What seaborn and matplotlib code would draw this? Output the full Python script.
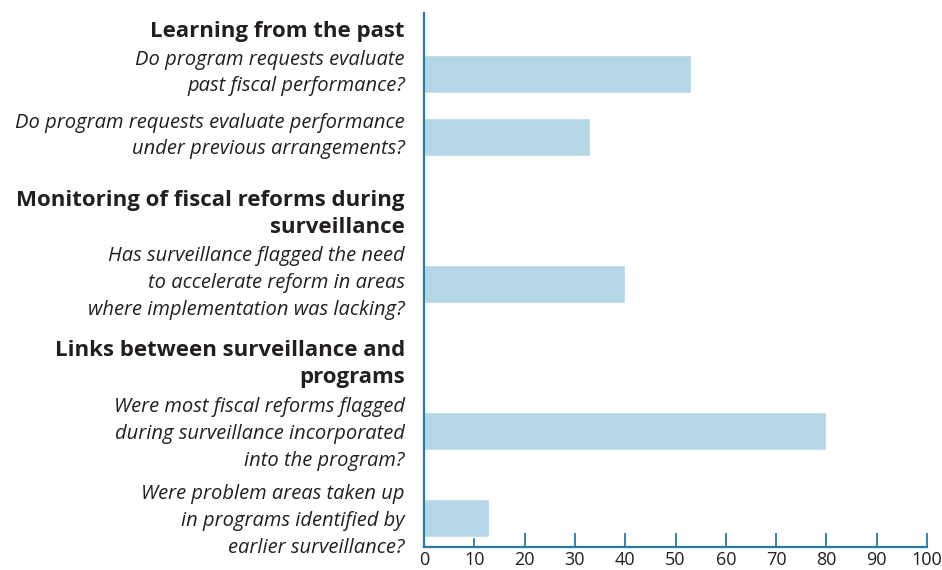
import matplotlib
matplotlib.use("Agg")
import matplotlib.pyplot as plt
import seaborn as sns
import pandas as pd

# data
headers = ["Learning from the past",
           "Monitoring of fiscal reforms during\nsurveillance",
           "Links between surveillance and\nprograms"]
questions = ["Do program requests evaluate\npast fiscal performance?",
             "Do program requests evaluate performance\nunder previous arrangements?",
             "Has surveillance flagged the need\nto accelerate reform in areas\nwhere implementation was lacking?",
             "Were most fiscal reforms flagged\nduring surveillance incorporated\ninto the program?",
             "Were problem areas taken up\nin programs identified by\nearlier surveillance?"]
shares = [53, 33, 40, 80, 13]
xticks = list(range(0, 101, 10))

# layout (pixels from top of plot area)
bar_pos = [61, 124, 271, 418, 505]
text_shift = [-1, -1, -1, 3, 3]
header_pos = [19, 201, 351]

bar_c = "#b4d6e6"
axis_c = "#2a7aa0"
text_c = "#231f20"

sns.set_style("white")
plt.rcParams['font.family'] = ['Open Sans', 'DejaVu Sans']

fig = plt.figure(figsize=(9.42, 5.70), dpi=100)
ax = fig.add_axes([424 / 942, 1 - 547 / 570, (927 - 424) / 942, (547 - 13) / 570])

df = pd.DataFrame({"pos": bar_pos, "share": shares})
sns.barplot(data=df, x="share", y="pos", orient="y", native_scale=True,
            width=38 / 63, color=bar_c, saturation=1, ax=ax)

ax.set_ylim(534, 0)
ax.set_xlim(0, 100)
ax.set_xticks(xticks)
ax.set_xlabel("")
ax.set_ylabel("")
ax.set_yticks([])
ax.tick_params(axis="x", direction="in", length=10, width=1.3, color=axis_c,
               labelsize=13, labelcolor=text_c, pad=3, bottom=True)
for s in ["top", "right"]:
    ax.spines[s].set_visible(False)
for s in ["left", "bottom"]:
    ax.spines[s].set_color(axis_c)
    ax.spines[s].set_linewidth(1.6)

for txt, y in zip(headers, header_pos):
    ax.text(-3.8, y, txt, ha="right", va="center",
            fontsize=16, fontweight="bold", color=text_c, linespacing=1.4)
for txt, y, dy in zip(questions, bar_pos, text_shift):
    ax.text(-3.8, y + dy, txt, ha="right", va="center", fontsize=14.5,
            fontstyle="italic", color=text_c, linespacing=1.45)

fig.savefig("out.png", dpi=100)
